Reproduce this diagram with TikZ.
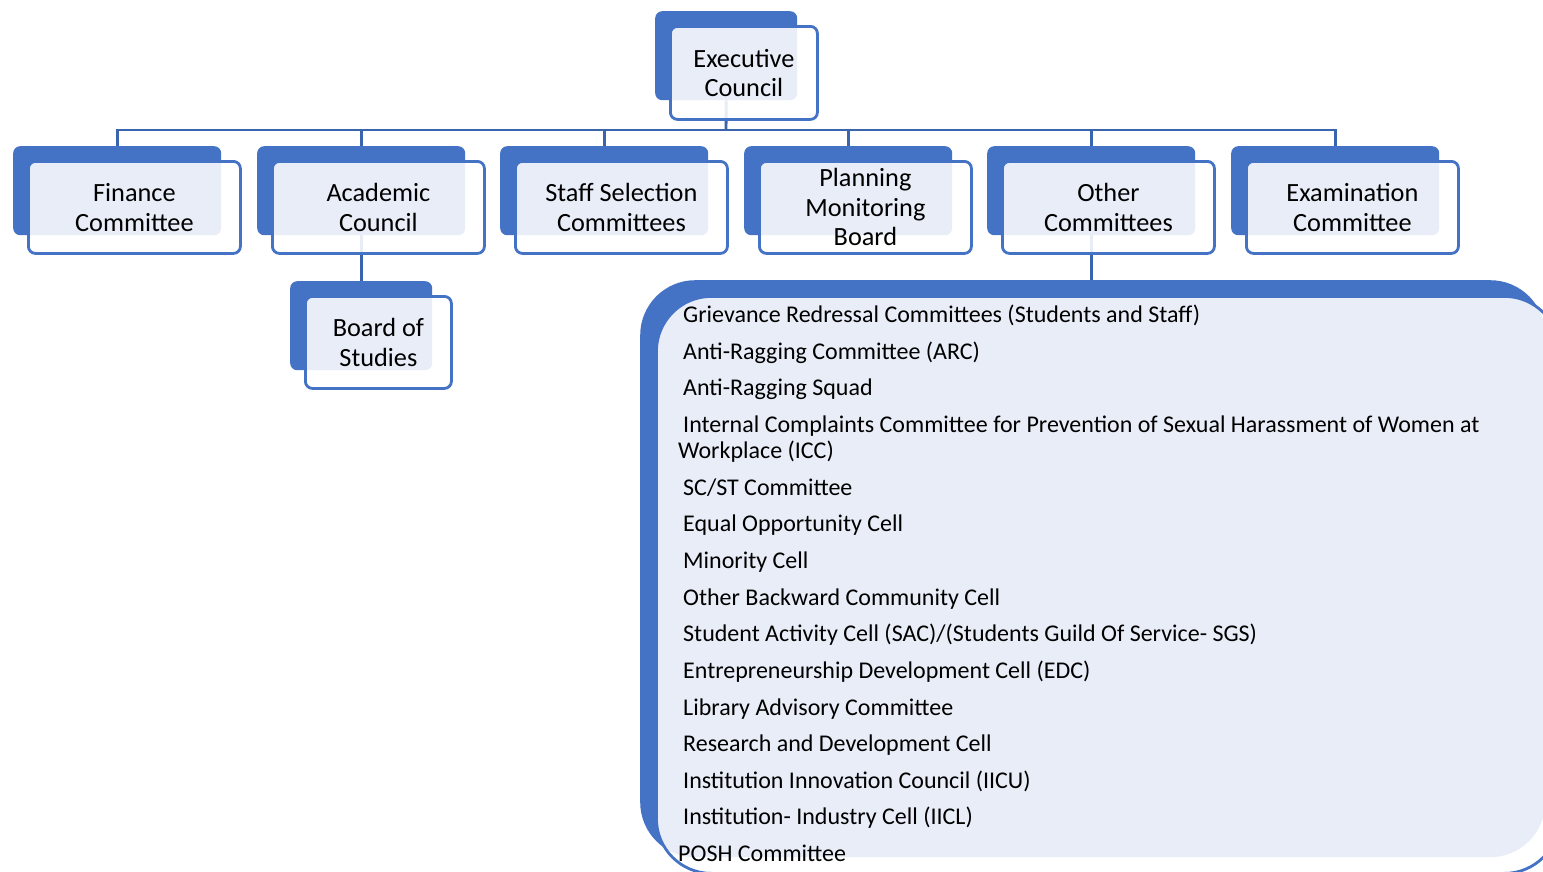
\documentclass[tikz,border=0pt]{standalone}
\usepackage{fontspec}
\setmainfont{Carlito}
\usetikzlibrary{backgrounds}
\definecolor{accent}{HTML}{4472C4}
\definecolor{linkblue}{HTML}{3A64AD}

\tikzset{
  backbox/.style={fill=accent, draw=none, rounded corners=7pt, anchor=north west, inner sep=0pt},
  frontbox/.style={fill=white, fill opacity=0.88, draw=accent, line width=2.8pt,
    rounded corners=7pt, anchor=north west, inner sep=0pt},
  boxtext/.style={align=center, font=\fontsize{26.3}{29.5}\selectfont, inner sep=0pt, text=black},
  itemtext/.style={anchor=base west, inner sep=0pt, font=\fontsize{24}{26}\selectfont, text=black},
  link/.style={draw=linkblue, line width=2.9pt},
}

% #1 name, #2 x, #3 y (top-left of the shadow block), #4 block width,
% #5 frame width, #6 frame height, #7 label
\newcommand\orgunit[7]{%
  \node[backbox, minimum width=#4pt, minimum height=89pt] (#1-b) at (#2,#3) {};
  \node[frontbox, minimum width=#5pt, minimum height=#6pt] (#1) at (#2+14,#3+14) {};
  \node[boxtext] (#1-t) at (#1.center) {#7};
}

\begin{document}
\begin{tikzpicture}[x=1pt,y=-1pt]
  \useasboundingbox (0,0) rectangle (1543,871);
  \clip (0,0) rectangle (1543,871);

  % top of the hierarchy
  \orgunit{exec}{655}{11}{142}{147}{93}{Executive\\Council}

  % second level
  \orgunit{fin}{13}{146}{208}{212}{92}{Finance\\Committee}
  \orgunit{acad}{257}{146}{208}{212}{92}{Academic\\Council}
  \orgunit{staff}{500}{146}{208}{212}{92}{Staff Selection\\Committees}
  \orgunit{plan}{744}{146}{208}{212}{92}{Planning\\Monitoring\\Board}
  \orgunit{other}{987}{146}{208}{212}{92}{Other\\Committees}
  \orgunit{exam}{1231}{146}{208}{212}{92}{Examination\\Committee}

  % under the Academic Council
  \orgunit{bos}{290}{281}{142}{146}{92}{Board of\\Studies}

  % list of the other committees
  \node[backbox, rounded corners=55pt, minimum width=905pt, minimum height=577pt] (list-b) at (640,280) {};
  \node[frontbox, rounded corners=55pt, minimum width=903pt, minimum height=577pt] (list) at (655,295) {};

  \node[itemtext] (item1)  at (683,322) {Grievance Redressal Committees (Students and Staff)};
  \node[itemtext] (item2)  at (683,359) {Anti-Ragging Committee (ARC)};
  \node[itemtext] (item3)  at (683,395) {Anti-Ragging Squad};
  \node[itemtext] (item4)  at (683,432) {Internal Complaints Committee for Prevention of Sexual Harassment of Women at};
  \node[itemtext] (item4b) at (678,458) {Workplace (ICC)};
  \node[itemtext] (item5)  at (683,495) {SC/ST Committee};
  \node[itemtext] (item6)  at (683,531) {Equal Opportunity Cell};
  \node[itemtext] (item7)  at (683,568) {Minority Cell};
  \node[itemtext] (item8)  at (683,605) {Other Backward Community Cell};
  \node[itemtext] (item9)  at (683,641) {Student Activity Cell (SAC)/(Students Guild Of Service- SGS)};
  \node[itemtext] (item10) at (683,678) {Entrepreneurship Development Cell (EDC)};
  \node[itemtext] (item11) at (683,715) {Library Advisory Committee};
  \node[itemtext] (item12) at (683,751) {Research and Development Cell};
  \node[itemtext] (item13) at (683,788) {Institution Innovation Council (IICU)};
  \node[itemtext] (item14) at (683,824) {Institution- Industry Cell (IICL)};
  \node[itemtext] (item15) at (678,861) {POSH Committee};

  % connectors, kept behind the boxes
  \begin{scope}[on background layer]
    \coordinate (bus) at (726,130);
    \draw[link] (exec-b.south) -- (bus);
    \foreach \n in {fin,acad,staff,plan,other,exam}
      \draw[link] (bus) -| (\n-b.north);
    \draw[link] (acad-b.south) -- (bos-b.north);
    \draw[link] (other-b.south) -- (other-b.south |- list-b.north);
  \end{scope}
\end{tikzpicture}
\end{document}
